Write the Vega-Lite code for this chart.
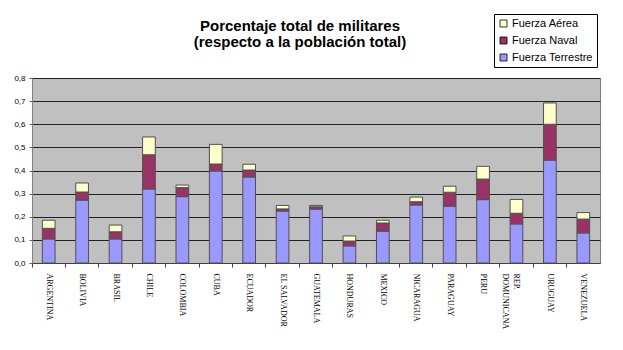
{
  "$schema": "https://vega.github.io/schema/vega-lite/v6.json",
  "autosize": {"type": "none"},
  "width": 568,
  "height": 185,
  "padding": {"left": 32, "top": 78, "right": 23, "bottom": 87},
  "background": "white",
  "title": {
    "text": ["Porcentaje total de militares", "(respecto a la población total)"],
    "font": "Liberation Sans",
    "fontSize": 15,
    "fontWeight": "bold",
    "color": "black",
    "anchor": "middle",
    "frame": "group",
    "dx": -16,
    "offset": -36,
    "lineHeight": 16
  },
  "data": {
    "values": [
      {"pais": "ARGENTINA", "fuerza": "Fuerza Terrestre", "valor": 0.104},
      {"pais": "ARGENTINA", "fuerza": "Fuerza Naval", "valor": 0.046},
      {"pais": "ARGENTINA", "fuerza": "Fuerza Aérea", "valor": 0.035},
      {"pais": "BOLIVIA", "fuerza": "Fuerza Terrestre", "valor": 0.272},
      {"pais": "BOLIVIA", "fuerza": "Fuerza Naval", "valor": 0.035},
      {"pais": "BOLIVIA", "fuerza": "Fuerza Aérea", "valor": 0.039},
      {"pais": "BRASIL", "fuerza": "Fuerza Terrestre", "valor": 0.104},
      {"pais": "BRASIL", "fuerza": "Fuerza Naval", "valor": 0.031},
      {"pais": "BRASIL", "fuerza": "Fuerza Aérea", "valor": 0.029},
      {"pais": "CHILE", "fuerza": "Fuerza Terrestre", "valor": 0.320},
      {"pais": "CHILE", "fuerza": "Fuerza Naval", "valor": 0.148},
      {"pais": "CHILE", "fuerza": "Fuerza Aérea", "valor": 0.077},
      {"pais": "COLOMBIA", "fuerza": "Fuerza Terrestre", "valor": 0.287},
      {"pais": "COLOMBIA", "fuerza": "Fuerza Naval", "valor": 0.039},
      {"pais": "COLOMBIA", "fuerza": "Fuerza Aérea", "valor": 0.011},
      {"pais": "CUBA", "fuerza": "Fuerza Terrestre", "valor": 0.398},
      {"pais": "CUBA", "fuerza": "Fuerza Naval", "valor": 0.030},
      {"pais": "CUBA", "fuerza": "Fuerza Aérea", "valor": 0.085},
      {"pais": "ECUADOR", "fuerza": "Fuerza Terrestre", "valor": 0.372},
      {"pais": "ECUADOR", "fuerza": "Fuerza Naval", "valor": 0.030},
      {"pais": "ECUADOR", "fuerza": "Fuerza Aérea", "valor": 0.025},
      {"pais": "EL SALVADOR", "fuerza": "Fuerza Terrestre", "valor": 0.225},
      {"pais": "EL SALVADOR", "fuerza": "Fuerza Naval", "valor": 0.009},
      {"pais": "EL SALVADOR", "fuerza": "Fuerza Aérea", "valor": 0.015},
      {"pais": "GUATEMALA", "fuerza": "Fuerza Terrestre", "valor": 0.233},
      {"pais": "GUATEMALA", "fuerza": "Fuerza Naval", "valor": 0.010},
      {"pais": "GUATEMALA", "fuerza": "Fuerza Aérea", "valor": 0.006},
      {"pais": "HONDURAS", "fuerza": "Fuerza Terrestre", "valor": 0.074},
      {"pais": "HONDURAS", "fuerza": "Fuerza Naval", "valor": 0.021},
      {"pais": "HONDURAS", "fuerza": "Fuerza Aérea", "valor": 0.022},
      {"pais": "MEXICO", "fuerza": "Fuerza Terrestre", "valor": 0.138},
      {"pais": "MEXICO", "fuerza": "Fuerza Naval", "valor": 0.035},
      {"pais": "MEXICO", "fuerza": "Fuerza Aérea", "valor": 0.012},
      {"pais": "NICARAGUA", "fuerza": "Fuerza Terrestre", "valor": 0.251},
      {"pais": "NICARAGUA", "fuerza": "Fuerza Naval", "valor": 0.014},
      {"pais": "NICARAGUA", "fuerza": "Fuerza Aérea", "valor": 0.020},
      {"pais": "PARAGUAY", "fuerza": "Fuerza Terrestre", "valor": 0.246},
      {"pais": "PARAGUAY", "fuerza": "Fuerza Naval", "valor": 0.060},
      {"pais": "PARAGUAY", "fuerza": "Fuerza Aérea", "valor": 0.026},
      {"pais": "PERU", "fuerza": "Fuerza Terrestre", "valor": 0.274},
      {"pais": "PERU", "fuerza": "Fuerza Naval", "valor": 0.089},
      {"pais": "PERU", "fuerza": "Fuerza Aérea", "valor": 0.055},
      {"pais": "REP. DOMUNICANA", "fuerza": "Fuerza Terrestre", "valor": 0.169},
      {"pais": "REP. DOMUNICANA", "fuerza": "Fuerza Naval", "valor": 0.046},
      {"pais": "REP. DOMUNICANA", "fuerza": "Fuerza Aérea", "valor": 0.060},
      {"pais": "URUGUAY", "fuerza": "Fuerza Terrestre", "valor": 0.445},
      {"pais": "URUGUAY", "fuerza": "Fuerza Naval", "valor": 0.155},
      {"pais": "URUGUAY", "fuerza": "Fuerza Aérea", "valor": 0.092},
      {"pais": "VENEZUELA", "fuerza": "Fuerza Terrestre", "valor": 0.130},
      {"pais": "VENEZUELA", "fuerza": "Fuerza Naval", "valor": 0.060},
      {"pais": "VENEZUELA", "fuerza": "Fuerza Aérea", "valor": 0.028}
    ]
  },
  "mark": {"type": "bar", "width": {"band": 0.38}, "stroke": "#505050", "strokeWidth": 1},
  "encoding": {
    "x": {
      "field": "pais",
      "type": "nominal",
      "sort": null,
      "scale": {"paddingInner": 0, "paddingOuter": 0},
      "axis": {
        "title": null,
        "labelAngle": 90,
        "labelAlign": "left",
        "labelBaseline": "middle",
        "labelFont": "Liberation Serif",
        "labelFontSize": 8,
        "labelColor": "black",
        "labelPadding": 6,
        "labelLineHeight": 11,
        "labelOverlap": false,
        "labelLimit": 0,
        "labelExpr": "datum.label == 'REP. DOMUNICANA' ? ['REP.', 'DOMUNICANA'] : datum.label",
        "bandPosition": 0,
        "tickSize": 4,
        "tickColor": "#404040",
        "domainColor": "#404040",
        "grid": false
      }
    },
    "y": {
      "field": "valor",
      "type": "quantitative",
      "stack": "zero",
      "scale": {"domain": [0, 0.8], "nice": false},
      "axis": {
        "title": null,
        "values": [0, 0.1, 0.2, 0.3, 0.4, 0.5, 0.6, 0.7, 0.8],
        "labelExpr": "replace(format(datum.value, '.1f'), '.', ',')",
        "labelFont": "Liberation Sans",
        "labelFontSize": 8,
        "labelColor": "black",
        "labelPadding": 4,
        "tickSize": 3,
        "tickColor": "#606060",
        "domainColor": "#808080",
        "grid": true,
        "gridColor": "#202020",
        "gridOpacity": 1,
        "gridWidth": 1
      }
    },
    "color": {
      "field": "fuerza",
      "type": "nominal",
      "scale": {
        "domain": ["Fuerza Aérea", "Fuerza Naval", "Fuerza Terrestre"],
        "range": ["#FFFFCC", "#993366", "#9999FF"]
      },
      "legend": {
        "title": null,
        "orient": "none",
        "legendX": 462,
        "legendY": -64,
        "strokeColor": "black",
        "fillColor": "white",
        "padding": 4,
        "symbolType": "square",
        "symbolSize": 49,
        "symbolStrokeColor": "black",
        "symbolStrokeWidth": 0.8,
        "labelFont": "Liberation Sans",
        "labelFontSize": 11,
        "labelColor": "black",
        "labelOffset": 3,
        "rowPadding": 5
      }
    },
    "order": {"field": "fuerza", "sort": "descending"}
  },
  "config": {
    "view": {"fill": "#C0C0C0", "stroke": "#808080", "strokeWidth": 1}
  }
}
